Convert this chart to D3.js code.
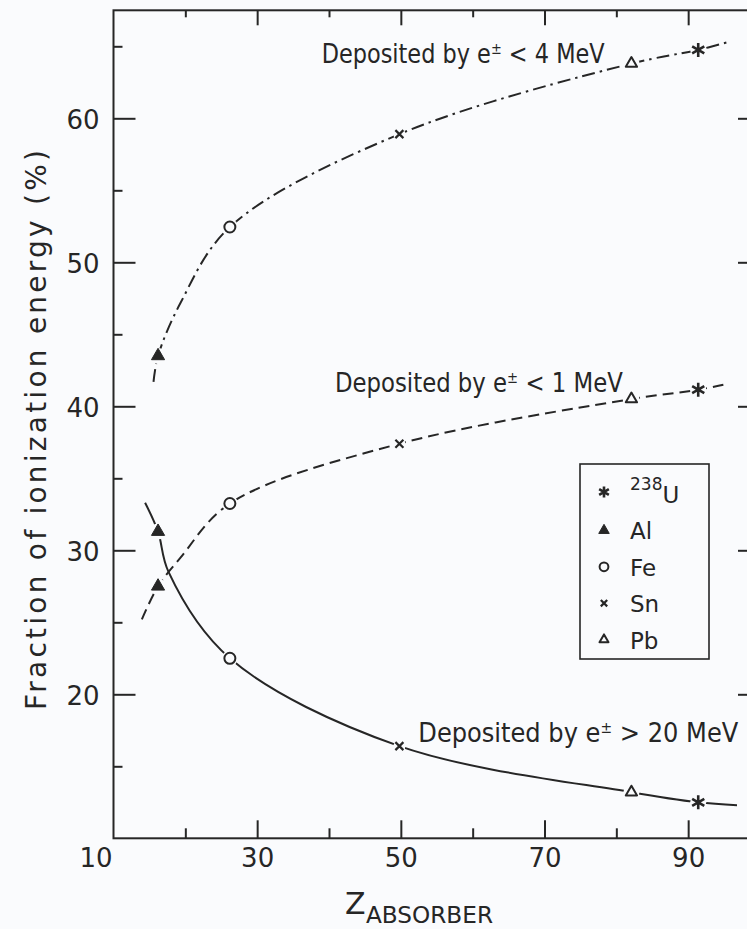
<!DOCTYPE html>
<html>
<head>
<meta charset="utf-8">
<script src="https://cdn.jsdelivr.net/npm/d3@7"></script>
<style>
  html, body { margin: 0; padding: 0; background: #fafbfd; }
  svg { display: block; }
</style>
</head>
<body>
<svg id="chart" width="747" height="929"></svg>
<script>
// ---- data -------------------------------------------------------------
// absorber samples: name and the Z at which each is plotted
const sampleNames = ["Al", "Fe", "Sn", "Pb", "U"];
const sampleZ     = [16.2, 26.2, 49.8, 82.1, 91.4];

// fraction of ionization energy (%) deposited by e± in each energy class
const below4MeV  = [43.5, 52.45, 58.9, 63.8, 64.75];
const below1MeV  = [27.5, 33.25, 37.4, 40.5, 41.15];
const above20MeV = [31.3, 22.5, 16.4, 13.2, 12.5];

// extra points (Z, %), incl. its two ends
const below4MeVTrace  = [[15.57, 41.7], [19.3, 47.15], [95.6, 65.3]];
const below1MeVTrace  = [[13.95, 25.2], [19.3, 29.47], [94.9, 41.5]];
const above20MeVTrace = [[14.4, 33.3], [17.66, 28.5], [96.8, 12.3]];

const energyCuts = ["< 4 MeV", "< 1 MeV", "> 20 MeV"];

// legend
const legendNames = ["U", "Al", "Fe", "Sn", "Pb"];
const legendMass  = ["238", "", "", "", ""];

// axis ticks
const xMajorTicks = [10, 30, 50, 70, 90];
const xMinorTicks = [20, 40, 60, 80];
const yMajorTicks = [20, 30, 40, 50, 60];
const yMinorTicks = [15, 25, 35, 45, 55, 65];

// ---- setup ------------------------------------------------------------
const FONT = "'DejaVu Sans', 'Liberation Sans', sans-serif";
const ink = "#262626";
const bg = "#fafbfd";

const svg = d3.select("#chart");
svg.append("rect").attr("width", 747).attr("height", 929).attr("fill", bg);

const x = d3.scaleLinear().domain([10, 100]).range([113.5, 760]);
const y = d3.scaleLinear().domain([10, 67.5]).range([838.3, 10.3]);

function styleAxis(g, fontSize) {
  g.select(".domain").remove();
  g.selectAll(".tick line").attr("stroke", ink).attr("stroke-width", 2);
  g.selectAll(".tick text")
    .attr("fill", ink)
    .style("font-family", FONT)
    .style("font-size", fontSize + "px");
}

// plot frame
svg.append("rect")
  .attr("x", x(10)).attr("y", y(67.5))
  .attr("width", x(100) - x(10)).attr("height", y(10) - y(67.5))
  .attr("fill", "none").attr("stroke", ink).attr("stroke-width", 2);

// bottom axis (inward ticks)
const gBottom = svg.append("g").attr("transform", `translate(0,${y(10)})`)
  .call(d3.axisBottom(x).tickValues(xMajorTicks).tickSize(-18).tickPadding(10).tickFormat(d3.format("d")));
styleAxis(gBottom, 26);
gBottom.selectAll(".tick").filter(d => d === 10).select("text").attr("x", -18);
gBottom.selectAll(".tick").filter(d => d === 10).select("line").remove();
const gBottomMinor = svg.append("g").attr("transform", `translate(0,${y(10)})`)
  .call(d3.axisBottom(x).tickValues(xMinorTicks).tickSize(-10).tickFormat(""));
styleAxis(gBottomMinor, 26);

// top axis
const gTop = svg.append("g").attr("transform", `translate(0,${y(67.5)})`)
  .call(d3.axisTop(x).tickValues(xMajorTicks.filter(d => d > 10)).tickSize(-15).tickFormat(""));
styleAxis(gTop, 26);
const gTopMinor = svg.append("g").attr("transform", `translate(0,${y(67.5)})`)
  .call(d3.axisTop(x).tickValues(xMinorTicks).tickSize(-7).tickFormat(""));
styleAxis(gTopMinor, 26);

// left axis
const gLeft = svg.append("g").attr("transform", `translate(${x(10)},0)`)
  .call(d3.axisLeft(y).tickValues(yMajorTicks).tickSize(-22).tickPadding(14).tickFormat(d3.format("d")));
styleAxis(gLeft, 26);
gLeft.selectAll(".tick text").attr("dy", "0.38em");
const gLeftMinor = svg.append("g").attr("transform", `translate(${x(10)},0)`)
  .call(d3.axisLeft(y).tickValues(yMinorTicks).tickSize(-9).tickFormat(""));
styleAxis(gLeftMinor, 26);

// right axis
const gRight = svg.append("g").attr("transform", `translate(${x(100)},0)`)
  .call(d3.axisRight(y).tickValues(yMajorTicks).tickSize(-22).tickFormat(""));
styleAxis(gRight, 26);
const gRightMinor = svg.append("g").attr("transform", `translate(${x(100)},0)`)
  .call(d3.axisRight(y).tickValues(yMinorTicks).tickSize(-9).tickFormat(""));
styleAxis(gRightMinor, 26);

// axis titles
svg.append("text")
  .attr("transform", "translate(46,430) rotate(-90)")
  .attr("text-anchor", "middle")
  .attr("textLength", 560).attr("lengthAdjust", "spacing")
  .style("font-family", FONT).style("font-size", "28px").attr("fill", ink)
  .text("Fraction of ionization energy (%)");

svg.append("text").attr("x", 345).attr("y", 914)
  .style("font-family", FONT).style("font-size", "30px").attr("fill", ink)
  .text("Z");
svg.append("text").attr("x", 366).attr("y", 922.5)
  .attr("textLength", 127).attr("lengthAdjust", "spacingAndGlyphs")
  .style("font-family", FONT).style("font-size", "23px").attr("fill", ink)
  .text("ABSORBER");

// ---- symbols ----------------------------------------------------------
const symTimes = {
  draw(ctx, size) {
    const r = Math.sqrt(size) / 2;
    ctx.moveTo(-r, -r); ctx.lineTo(r, r);
    ctx.moveTo(r, -r); ctx.lineTo(-r, r);
  }
};
const symAsterisk = {
  draw(ctx, size) {
    const r = Math.sqrt(size) / 2;
    for (let k = 0; k < 3; k++) {
      const a = Math.PI / 2 + k * Math.PI / 3;
      ctx.moveTo(r * Math.cos(a), r * Math.sin(a));
      ctx.lineTo(-r * Math.cos(a), -r * Math.sin(a));
    }
  }
};
const markerStyle = {
  U:  { type: symAsterisk,       size: 196, fill: "none", sw: 2.6, halo: 8 },
  Al: { type: d3.symbolTriangle, size: 75,  fill: ink,    sw: 1,   halo: 8 },
  Fe: { type: d3.symbolCircle,   size: 95,  fill: bg,     sw: 2,   halo: 8 },
  Sn: { type: symTimes,          size: 64,  fill: "none", sw: 2.2, halo: 6 },
  Pb: { type: d3.symbolTriangle, size: 55,  fill: bg,     sw: 2,   halo: 8 }
};

function drawMarker(g, name, cx, cy, scale) {
  const st = markerStyle[name];
  g.append("path")
    .attr("transform", `translate(${cx},${cy})`)
    .attr("d", d3.symbol().type(st.type).size(st.size * scale * scale)())
    .attr("fill", st.fill).attr("stroke", ink).attr("stroke-width", st.sw)
    .attr("stroke-linejoin", "round");
}

// ---- curves and markers ----------------------------------------------
const curves = [
  { values: below4MeV,  trace: below4MeVTrace,  dash: "13,5,2.5,5" },
  { values: below1MeV,  trace: below1MeVTrace,  dash: "11,6" },
  { values: above20MeV, trace: above20MeVTrace, dash: null }
];

const line = d3.line()
  .x(d => x(d[0])).y(d => y(d[1]))
  .curve(d3.curveCatmullRom.alpha(0.5));

const gLines = svg.append("g");
const gHalo = svg.append("g");
const gMarks = svg.append("g");

curves.forEach(c => {
  const pts = sampleZ.map((z, i) => [z, c.values[i]]).concat(c.trace)
    .sort((a, b) => a[0] - b[0]);
  gLines.append("path")
    .attr("d", line(pts))
    .attr("fill", "none").attr("stroke", ink).attr("stroke-width", 2)
    .attr("stroke-dasharray", c.dash);
  sampleNames.forEach((name, i) => {
    const cx = x(sampleZ[i]), cy = y(c.values[i]);
    gHalo.append("circle").attr("cx", cx).attr("cy", cy)
      .attr("r", markerStyle[name].halo).attr("fill", bg);
    drawMarker(gMarks, name, cx, cy, 1);
  });
});

// ---- curve annotations ------------------------------------------------
const annotationPos = [
  { x: 321.7, y: 63.3,  w: 283 },
  { x: 335,   y: 391.7, w: 288 },
  { x: 418.3, y: 741.7, w: 320 }
];
energyCuts.forEach((cut, i) => {
  const p = annotationPos[i];
  const t = svg.append("text")
    .style("font-family", FONT).style("font-size", "26px").attr("fill", ink);
  t.append("tspan").text("Deposited  by  e");
  t.append("tspan").attr("dy", -9).style("font-size", "15px").text("±");
  t.append("tspan").attr("dy", 9).text(" " + cut);
  const len = t.node().getComputedTextLength();
  t.attr("transform", `translate(${p.x},${p.y}) scale(${p.w / len},1)`);
});

// ---- legend -------------------------------------------------------------
const gLeg = svg.append("g");
gLeg.append("rect")
  .attr("x", 580).attr("y", 464).attr("width", 129).attr("height", 195)
  .attr("fill", "none").attr("stroke", ink).attr("stroke-width", 1.6);
legendNames.forEach((name, i) => {
  const base = 503 + i * 36.4;
  drawMarker(gLeg, name, 604, base - (i === 0 ? 11 : 9), 0.8);
  const t = gLeg.append("text").attr("x", 630).attr("y", base)
    .style("font-family", FONT).style("font-size", "23px").attr("fill", ink);
  if (legendMass[i]) {
    t.append("tspan").attr("dy", -13).style("font-size", "17px").text(legendMass[i]);
    t.append("tspan").attr("dy", 13).text(name);
  } else {
    t.text(name);
  }
});
</script>
</body>
</html>
